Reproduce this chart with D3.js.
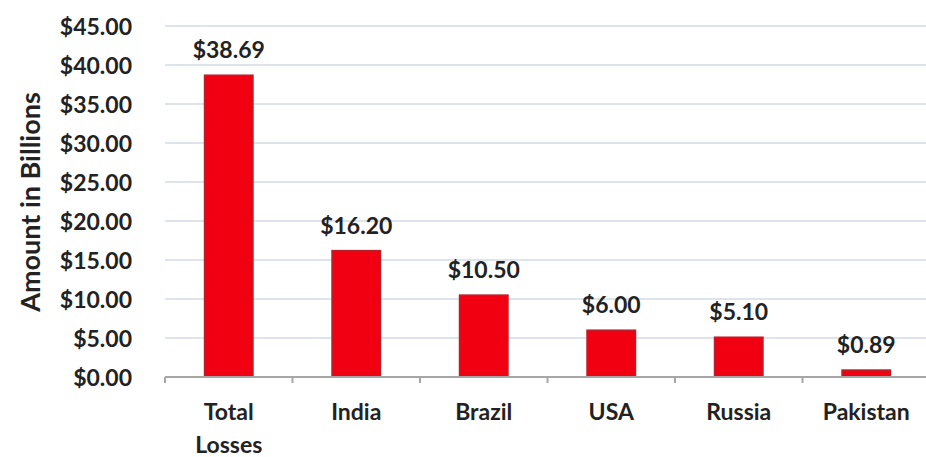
<!DOCTYPE html>
<html>
<head>
<meta charset="utf-8">
<script src="https://cdn.jsdelivr.net/npm/d3@7"></script>
<style>
  body { margin: 0; background: #fff; }
  text { font-family: Lato, "Open Sans", sans-serif; font-weight: bold; fill: #222; }
</style>
</head>
<body>
<div id="chart"></div>
<script>
// datos
const categories = [["Total", "Losses"], ["India"], ["Brazil"], ["USA"], ["Russia"], ["Pakistan"]]
const values = [38.69, 16.20, 10.50, 6.00, 5.10, 0.89]
const yTicks = [0, 5, 10, 15, 20, 25, 30, 35, 40, 45]

const width = 926, height = 457
const plotLeft = 165, plotRight = 930, plotTop = 26, plotBottom = 377

const svg = d3.select("#chart")
  .append("svg")
  .attr("width", width)
  .attr("height", height)

const x = d3.scaleBand()
  .domain(d3.range(categories.length))
  .range([plotLeft, plotRight])
  .paddingInner(0.62)
  .paddingOuter(0.31)

const y = d3.scaleLinear()
  .domain([0, 45])
  .range([plotBottom, plotTop])

const fmt = d => "$" + d3.format(".2f")(d)

// lineas de la rejilla
svg.append("g")
  .selectAll("line")
  .data(yTicks.filter(d => d > 0))
  .enter().append("line")
  .attr("x1", plotLeft)
  .attr("x2", plotRight)
  .attr("y1", d => y(d))
  .attr("y2", d => y(d))
  .attr("stroke", "#dde4eb")
  .attr("stroke-width", 2)

// eje y
const yAxis = svg.append("g")
  .attr("transform", `translate(${plotLeft - 33}, 0)`)
  .call(d3.axisLeft(y).tickValues(yTicks).tickFormat(fmt).tickSize(0))
yAxis.select(".domain").remove()
yAxis.selectAll("text")
  .attr("x", 0)
  .attr("dy", "0.35em")
  .style("font-size", "23px")
  .style("font-family", "Lato, sans-serif")
  .style("font-weight", "bold")
  .attr("fill", "#222")

// barras
svg.append("g")
  .selectAll("rect")
  .data(values)
  .enter().append("rect")
  .attr("x", (d, i) => x(i))
  .attr("y", d => y(d))
  .attr("width", x.bandwidth())
  .attr("height", d => y(0) - y(d))
  .attr("fill", "#f00010")
  .attr("stroke", "#b8202a")
  .attr("stroke-width", 1.5)

// eje x
svg.append("line")
  .attr("x1", plotLeft)
  .attr("x2", plotRight)
  .attr("y1", y(0))
  .attr("y2", y(0))
  .attr("stroke", "#a6a6a6")
  .attr("stroke-width", 2)

const step = x.step()
svg.append("g")
  .selectAll("line")
  .data(d3.range(categories.length + 1))
  .enter().append("line")
  .attr("x1", i => x(0) - step * 0.31 + i * step)
  .attr("x2", i => x(0) - step * 0.31 + i * step)
  .attr("y1", y(0))
  .attr("y2", y(0) + 6)
  .attr("stroke", "#a6a6a6")
  .attr("stroke-width", 2)

// etiquetas de valor
svg.append("g")
  .selectAll("text")
  .data(values)
  .enter().append("text")
  .attr("x", (d, i) => x(i) + x.bandwidth() / 2)
  .attr("y", d => y(d) - 17)
  .attr("text-anchor", "middle")
  .style("font-size", "23px")
  .text(fmt)

// categorias
const cats = svg.append("g")
  .selectAll("text")
  .data(categories)
  .enter().append("text")
  .attr("x", (d, i) => x(i) + x.bandwidth() / 2)
  .attr("y", 420)
  .attr("text-anchor", "middle")
  .style("font-size", "23px")
cats.selectAll("tspan")
  .data(d => d)
  .enter().append("tspan")
  .attr("x", function () { return d3.select(this.parentNode).attr("x") })
  .attr("dy", (d, i) => i ? 33 : 0)
  .text(d => d)

// titulo eje y
svg.append("text")
  .attr("transform", `translate(40, 202) rotate(-90)`)
  .attr("text-anchor", "middle")
  .style("font-size", "27px")
  .text("Amount in Billions")
</script>
</body>
</html>
